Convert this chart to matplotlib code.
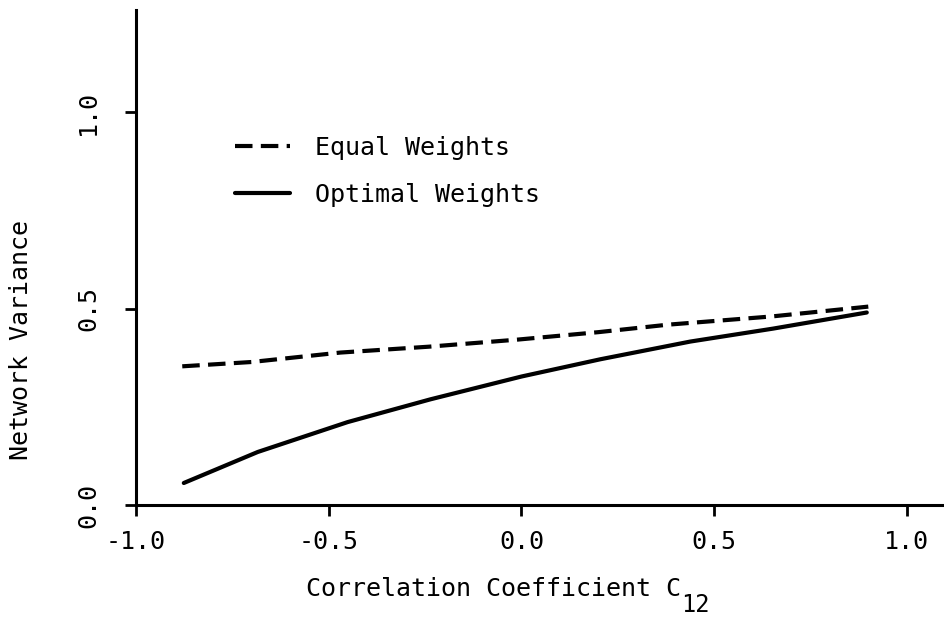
import matplotlib
matplotlib.use("Agg")
import matplotlib.pyplot as plt

plt.rcParams['font.family'] = ['DejaVu Sans Mono']

# values
equal_x = [-0.88, -0.70, -0.47, -0.24, -0.01, 0.20, 0.38, 0.65, 0.90]
equal_y = [0.353, 0.364, 0.388, 0.403, 0.421, 0.440, 0.459, 0.480, 0.505]

optimal_x = [-0.876, -0.684, -0.451, -0.236, 0.0, 0.205, 0.438, 0.653, 0.896]
optimal_y = [0.056, 0.135, 0.211, 0.269, 0.327, 0.371, 0.416, 0.449, 0.490]

x_ticks = [-1.0, -0.5, 0.0, 0.5, 1.0]
y_ticks = [0.0, 0.5, 1.0]

fig = plt.figure(figsize=(9.45, 6.24), dpi=100)
ax = fig.add_axes([136 / 945, 119 / 624, 809 / 945, 495 / 624])

ax.plot(equal_x, equal_y, color='black', lw=3, dashes=(4.2, 2.0),
        label='Equal Weights')
ax.plot(optimal_x, optimal_y, color='black', lw=3, solid_capstyle='round',
        label='Optimal Weights')

ax.set_xlim(-1.0, 1.099)
ax.set_ylim(0.0, 1.26)
ax.set_xticks(x_ticks)
ax.set_xticklabels([f'{v:.1f}' for v in x_ticks])
ax.set_yticks(y_ticks)
ax.set_yticklabels([f'{v:.1f}' for v in y_ticks], rotation=90, va='center')

for side in ['top', 'right']:
    ax.spines[side].set_visible(False)
for side in ['left', 'bottom']:
    ax.spines[side].set_linewidth(2.2)

ax.tick_params(axis='x', direction='out', length=8, width=2, labelsize=18, pad=10)
ax.tick_params(axis='y', direction='out', length=8, width=2, labelsize=18, pad=18)

# x label with a lowered, full-size subscript like the typewritten original
ax.set_xlabel('Correlation Coefficient C', fontsize=18)
ax.xaxis.set_label_coords(0.442, -0.145)
ax.annotate('12', xy=(1.0, 0.0), xycoords=ax.xaxis.label,
            xytext=(0, -3), textcoords='offset points',
            ha='left', va='center', fontsize=17)

ax.set_ylabel('Network Variance', fontsize=18)
ax.yaxis.set_label_coords(-0.127, 0.333)

ax.legend(loc='upper left', bbox_to_anchor=(0.122, 0.745), frameon=False,
          fontsize=18, handlelength=2.2, handletextpad=1.0, labelspacing=0.9,
          borderpad=0, borderaxespad=0)

fig.savefig('out.png', dpi=100)
